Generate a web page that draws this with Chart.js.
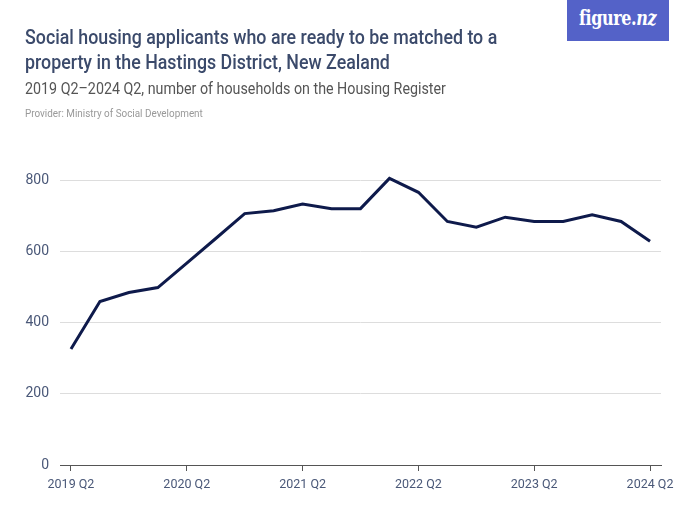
<!DOCTYPE html>
<html>
<head>
<meta charset="utf-8">
<script src="https://cdn.jsdelivr.net/npm/chart.js@4"></script>
<style>
  html, body { margin: 0; padding: 0; background: #fff; }
  #wrap { position: relative; width: 700px; height: 525px; overflow: hidden; }
  #c { position: absolute; left: 0; top: 0; }
  .t { position: absolute; white-space: nowrap; font-family: Roboto, sans-serif; transform-origin: 0 0; }
  #title { left: 25px; top: 25px; font-size: 20px; line-height: 25px; font-weight: 500; color: #3b4a6b; transform: scaleX(0.89); }
  #sub { left: 25px; top: 78px; font-size: 17px; color: #555; transform: scaleX(0.84); }
  #prov { left: 25px; top: 106px; font-size: 11.5px; color: #999; transform: scaleX(0.86); }
  #logo { position: absolute; left: 567px; top: 0; width: 102px; height: 41px; background: #5462c8; }
  #logotxt { position: absolute; left: 12px; top: 6px; color: #fff; font-family: 'DejaVu Serif', 'Liberation Serif', serif; font-weight: bold;
             font-size: 20px; white-space: nowrap; transform: scaleX(0.8); transform-origin: 0 0; letter-spacing: -0.5px; }
</style>
</head>
<body>
<div id="wrap">
  <canvas id="c" width="700" height="525"></canvas>
  <div class="t" id="title">Social housing applicants who are ready to be matched to a<br>property in the Hastings District, New Zealand</div>
  <div class="t" id="sub">2019 Q2–2024 Q2, number of households on the Housing Register</div>
  <div class="t" id="prov">Provider: Ministry of Social Development</div>
  <div id="logo"><div id="logotxt">figure.<i>nz</i></div></div>
</div>
<script>
const quarters = ["2019 Q2","2019 Q3","2019 Q4","2020 Q1","2020 Q2","2020 Q3","2020 Q4","2021 Q1","2021 Q2","2021 Q3","2021 Q4",
  "2022 Q1","2022 Q2","2022 Q3","2022 Q4","2023 Q1","2023 Q2","2023 Q3","2023 Q4","2024 Q1","2024 Q2"];
const households = [326, 460, 485, 499, 568, 637, 707, 715, 734, 721, 721,
  806, 767, 685, 669, 697, 685, 685, 704, 685, 629];
const xTickLabels = ["2019 Q2","2020 Q2","2021 Q2","2022 Q2","2023 Q2","2024 Q2"];
const yTicks = [0, 200, 400, 600, 800];

const points = households.map((v, i) => ({ x: i, y: v }));

new Chart(document.getElementById('c'), {
  type: 'line',
  data: { datasets: [{ data: points, borderColor: '#0e1a4b', borderWidth: 3, pointRadius: 0, tension: 0, fill: false, clip: false }] },
  options: {
    responsive: false, animation: false, devicePixelRatio: 1,
    layout: { padding: { left: 0, right: 39, top: 145, bottom: 0 } },
    plugins: { legend: { display: false }, tooltip: { enabled: false } },
    scales: {
      x: {
        type: 'linear', min: -0.379, max: 20.379,
        afterBuildTicks: s => { s.ticks = xTickLabels.map(l => ({ value: quarters.indexOf(l) })); },
        afterFit: s => { s.height = 60; },
        grid: { drawOnChartArea: false, drawTicks: true, tickLength: 6, color: '#555' },
        border: { display: true, color: '#555', width: 1 },
        ticks: { autoSkip: false, maxRotation: 0, padding: 6, color: '#4a5878', font: { family: "Roboto, sans-serif", size: 12.5 },
                 callback: v => quarters[v] }
      },
      y: {
        min: 0, max: 900,
        afterBuildTicks: s => { s.ticks = yTicks.map(v => ({ value: v })); },
        afterFit: s => { s.width = 60; },
        grid: { drawTicks: false, color: ctx => (ctx.tick && ctx.tick.value === 0) ? 'rgba(0,0,0,0)' : '#dddddd' },
        border: { display: false },
        ticks: { padding: 11, color: '#4a5878', font: { family: "Roboto, sans-serif", size: 14 }, callback: v => String(v) }
      }
    }
  }
});
</script>
</body>
</html>
